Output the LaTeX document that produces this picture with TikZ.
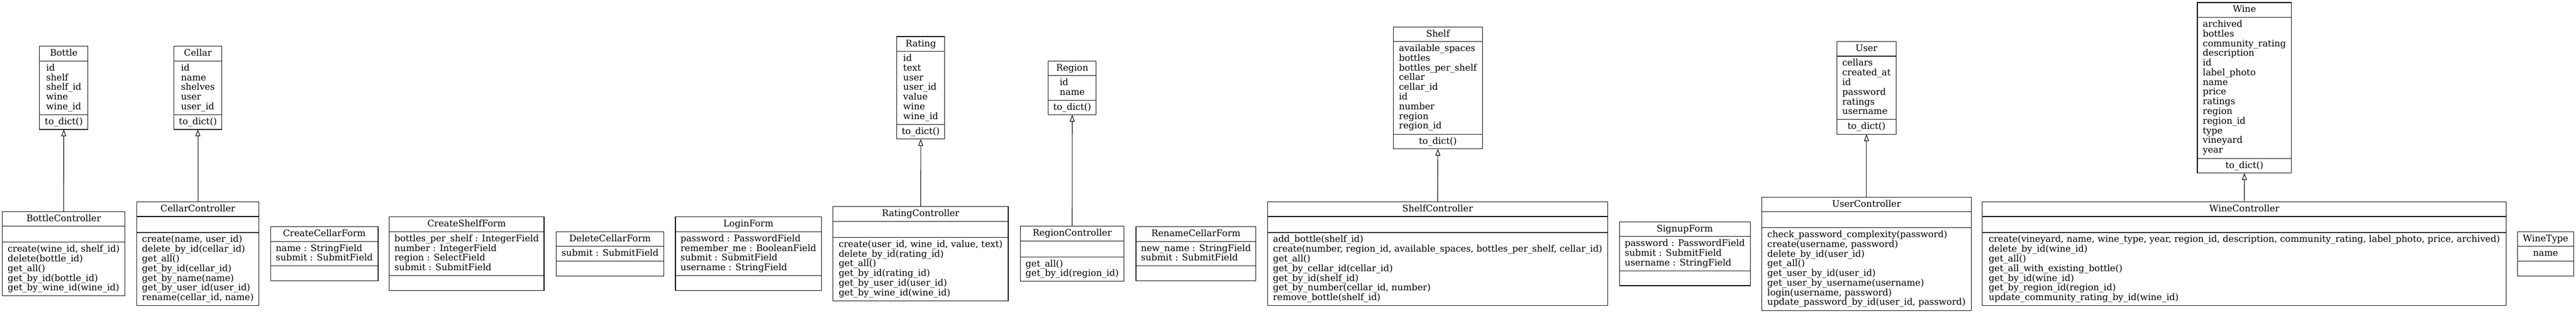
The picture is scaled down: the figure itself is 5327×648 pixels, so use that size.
\documentclass[tikz,border=0pt]{standalone}
\usepackage{fontspec}
\setmainfont{DejaVu Serif}
\usetikzlibrary{arrows.meta}
\newcommand\rowx[1]{\hbox{#1}}
\newcommand\fieldtext[1]{\vtop{\baselineskip=15pt\lineskiplimit=-100pt\lineskip=0pt #1}}
\tikzset{
  umlbox/.style={draw=black, line width=0.9pt, inner sep=0pt, outer sep=0pt},
  umlsep/.style={draw=black, line width=0.9pt},
  umltext/.style={inner sep=0pt, anchor=base, font=\fontsize{14}{15}\selectfont},
  inherits/.style={draw=black, line width=0.9pt, -{Triangle[open, length=10.5pt, width=7.5pt]}}
}
% #1 name, #2 cx, #3 width, #4 rank cy, #5 title, #6 n attrs, #7 attrs, #8 n methods, #9 methods
\newcommand\umlclass[9]{%
  \pgfmathsetmacro\hA{(#6==0) ? 33 : 20.1*#6+10.3}%
  \pgfmathsetmacro\hM{(#8==0) ? 30.8 : 20.1*#8+10.3}%
  \pgfmathsetmacro\hT{30.4+\hA+\hM}%
  \pgfmathsetmacro\ytop{#4-\hT/2}%
  \pgfmathsetmacro\ysa{\ytop+30.4}%
  \pgfmathsetmacro\ysb{\ysa+\hA}%
  \pgfmathsetmacro\xl{#2-#3/2}%
  \pgfmathsetmacro\xr{#2+#3/2}%
  \pgfmathsetmacro\ybt{\ytop+20.2}%
  \pgfmathsetmacro\yba{\ysa+\hA/2-(max(#6,1)-1)*10.05+5}%
  \pgfmathsetmacro\ybm{\ysb+\hM/2-(max(#8,1)-1)*10.05+5}%
  \node[umlbox, minimum width=#3*0.75pt, minimum height=\hT*0.75pt] (#1) at (#2,#4) {};
  \draw[umlsep] (\xl,\ysa) -- (\xr,\ysa);
  \draw[umlsep] (\xl,\ysb) -- (\xr,\ysb);
  \node[umltext] (#1-title) at (#2,\ybt) {#5};
  \node[umltext] (#1-attrs) at (#2,\yba) {\fieldtext{#7}};
  \node[umltext] (#1-methods) at (#2,\ybm) {\fieldtext{#9}};
}
\begin{document}
\begin{tikzpicture}[x=0.75pt, y=-0.75pt]
\useasboundingbox (0,0) rectangle (5327,648);
\fill[white] (0,0) rectangle (5327,648);
% top rank
\umlclass{Bottle}{131.9}{100.4}{181.6}{Bottle}{5}{\rowx{id}\rowx{shelf}\rowx{shelf\_id}\rowx{wine}\rowx{wine\_id}}{1}{\rowx{to\_dict()}}
\umlclass{Cellar}{409.2}{99.5}{181.6}{Cellar}{5}{\rowx{id}\rowx{name}\rowx{shelves}\rowx{user}\rowx{user\_id}}{1}{\rowx{to\_dict()}}
\umlclass{Rating}{1904}{99.5}{181.6}{Rating}{7}{\rowx{id}\rowx{text}\rowx{user}\rowx{user\_id}\rowx{value}\rowx{wine}\rowx{wine\_id}}{1}{\rowx{to\_dict()}}
\umlclass{Region}{2217.3}{99.4}{181.6}{Region}{2}{\rowx{id}\rowx{name}}{1}{\rowx{to\_dict()}}
\umlclass{Shelf}{2973.4}{183.6}{181.6}{Shelf}{9}{\rowx{available\_spaces}\rowx{bottles}\rowx{bottles\_per\_shelf}\rowx{cellar}\rowx{cellar\_id}\rowx{id}\rowx{number}\rowx{region}\rowx{region\_id}}{1}{\rowx{to\_dict()}}
\umlclass{User}{3859.75}{122.9}{181.6}{User}{6}{\rowx{cellars}\rowx{created\_at}\rowx{id}\rowx{password}\rowx{ratings}\rowx{username}}{1}{\rowx{to\_dict()}}
\umlclass{Wine}{4641.25}{194.7}{181.6}{Wine}{14}{\rowx{archived}\rowx{bottles}\rowx{community\_rating}\rowx{description}\rowx{id}\rowx{label\_photo}\rowx{name}\rowx{price}\rowx{ratings}\rowx{region}\rowx{region\_id}\rowx{type}\rowx{vineyard}\rowx{year}}{1}{\rowx{to\_dict()}}
% bottom rank
\umlclass{BottleController}{131.7}{253.6}{524.3}{BottleController}{0}{}{5}{\rowx{create(wine\_id, shelf\_id)}\rowx{delete(bottle\_id)}\rowx{get\_all()}\rowx{get\_by\_id(bottle\_id)}\rowx{get\_by\_wine\_id(wine\_id)}}
\umlclass{CellarController}{409.2}{252.3}{524.3}{CellarController}{0}{}{7}{\rowx{create(name, user\_id)}\rowx{delete\_by\_id(cellar\_id)}\rowx{get\_all()}\rowx{get\_by\_id(cellar\_id)}\rowx{get\_by\_name(name)}\rowx{get\_by\_user\_id(user\_id)}\rowx{rename(cellar\_id, name)}}
\umlclass{CreateCellarForm}{670.7}{222.6}{524.3}{CreateCellarForm}{2}{\rowx{name : StringField}\rowx{submit : SubmitField}}{0}{}
\umlclass{CreateShelfForm}{965}{320}{524.3}{CreateShelfForm}{4}{\rowx{bottles\_per\_shelf : IntegerField}\rowx{number : IntegerField}\rowx{region : SelectField}\rowx{submit : SubmitField}}{0}{}
\umlclass{DeleteCellarForm}{1261.5}{223}{524.3}{DeleteCellarForm}{1}{\rowx{submit : SubmitField}}{0}{}
\umlclass{LoginForm}{1547.6}{301.8}{524.3}{LoginForm}{4}{\rowx{password : PasswordField}\rowx{remember\_me : BooleanField}\rowx{submit : SubmitField}\rowx{username : StringField}}{0}{}
\umlclass{RatingController}{1903.8}{362.4}{524.3}{RatingController}{0}{}{6}{\rowx{create(user\_id, wine\_id, value, text)}\rowx{delete\_by\_id(rating\_id)}\rowx{get\_all()}\rowx{get\_by\_id(rating\_id)}\rowx{get\_by\_user\_id(user\_id)}\rowx{get\_by\_wine\_id(wine\_id)}}
\umlclass{RegionController}{2217.1}{214.4}{524.3}{RegionController}{0}{}{2}{\rowx{get\_all()}\rowx{get\_by\_id(region\_id)}}
\umlclass{RenameCellarForm}{2473.1}{247.8}{524.3}{RenameCellarForm}{2}{\rowx{new\_name : StringField}\rowx{submit : SubmitField}}{0}{}
\umlclass{ShelfController}{2972.9}{703}{524.3}{ShelfController}{0}{}{7}{\rowx{add\_bottle(shelf\_id)}\rowx{create(number, region\_id, available\_spaces, bottles\_per\_shelf, cellar\_id)}\rowx{get\_all()}\rowx{get\_by\_cellar\_id(cellar\_id)}\rowx{get\_by\_id(shelf\_id)}\rowx{get\_by\_number(cellar\_id, number)}\rowx{remove\_bottle(shelf\_id)}}
\umlclass{SignupForm}{3484}{270.4}{524.3}{SignupForm}{3}{\rowx{password : PasswordField}\rowx{submit : SubmitField}\rowx{username : StringField}}{0}{}
\umlclass{UserController}{3859.75}{433.3}{524.3}{UserController}{0}{}{8}{\rowx{check\_password\_complexity(password)}\rowx{create(username, password)}\rowx{delete\_by\_id(user\_id)}\rowx{get\_all()}\rowx{get\_user\_by\_id(user\_id)}\rowx{get\_user\_by\_username(username)}\rowx{login(username, password)}\rowx{update\_password\_by\_id(user\_id, password)}}
\umlclass{WineController}{4641}{1083.2}{524.3}{WineController}{0}{}{7}{\rowx{create(vineyard, name, wine\_type, year, region\_id, description, community\_rating, label\_photo, price, archived)}\rowx{delete\_by\_id(wine\_id)}\rowx{get\_all()}\rowx{get\_all\_with\_existing\_bottle()}\rowx{get\_by\_id(wine\_id)}\rowx{get\_by\_region\_id(region\_id)}\rowx{update\_community\_rating\_by\_id(wine\_id)}}
\umlclass{WineType}{5264}{116.9}{524.3}{WineType}{1}{\rowx{name}}{0}{}
% inheritance edges
\draw[inherits] (BottleController.north) -- (Bottle.south);
\draw[inherits] (CellarController.north) -- (Cellar.south);
\draw[inherits] (RatingController.north) -- (Rating.south);
\draw[inherits] (RegionController.north) -- (Region.south);
\draw[inherits] (ShelfController.north) -- (Shelf.south);
\draw[inherits] (UserController.north) -- (User.south);
\draw[inherits] (WineController.north) -- (Wine.south);
\end{tikzpicture}
\end{document}
